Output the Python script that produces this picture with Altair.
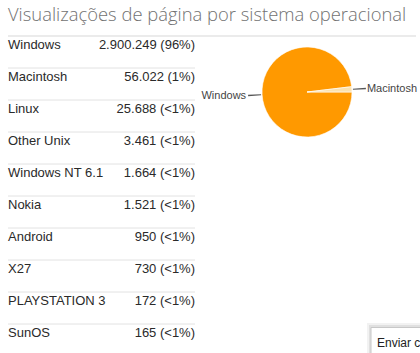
import math
import altair as alt
import pandas as pd

# ---- data ----
os_names = ["Windows", "Macintosh", "Linux", "Other Unix", "Windows NT 6.1",
            "Nokia", "Android", "X27", "PLAYSTATION 3", "SunOS"]
page_views = [2900249, 56022, 25688, 3461, 1664, 1521, 950, 730, 172, 165]
share_labels = ["96%", "1%", "<1%", "<1%", "<1%", "<1%", "<1%", "<1%", "<1%", "<1%"]

pie_names = ["Windows", "Macintosh"]
pie_views = [2900249, 56022]
pie_colors = ["#FF9900", "#FBE2B0"]

title_text = "Visualizações de página por sistema operacional"
feedback_text = "Enviar comentários"

table = pd.DataFrame({"os": os_names, "views": page_views,
                      "share": share_labels, "rank": list(range(len(os_names)))})
pie = pd.DataFrame({"os": pie_names, "views": pie_views,
                    "rank": list(range(len(pie_names)))})

FONT = "Liberation Sans"
y_scale = alt.Scale(type="point", domain=os_names, range=[49, 337], padding=0)
Y = alt.Y("os:N", scale=y_scale, axis=None)

base = alt.Chart(table)

names = base.mark_text(align="left", baseline="alphabetic", font=FONT,
                       fontSize=13, color="#2a2a2a").encode(
    x=alt.value(8), y=Y, text="os:N")

values = base.transform_calculate(
    label="replace(format(datum.views, ','), regexp(',', 'g'), '.') + ' (' + datum.share + ')'"
).mark_text(align="right", baseline="alphabetic", font=FONT,
            fontSize=13, color="#2a2a2a").encode(
    x=alt.value(195), y=Y, text="label:N")

seps = base.transform_filter("datum.rank > 0").mark_rule(
    color="#e2e2e2", strokeWidth=1, yOffset=-13).encode(
    x=alt.value(8), x2=alt.value(195), y=Y)

title_line = base.transform_filter("datum.rank == 0").mark_rule(
    color="#e4e4e4", strokeWidth=1.5, yOffset=-13).encode(
    x=alt.value(8), x2=alt.value(416), y=Y)

title = alt.Chart(pd.DataFrame({"t": [title_text]})).mark_text(
    align="left", baseline="alphabetic", font="Open Sans", fontSize=18.4,
    fontWeight=300, color="#727272").encode(
    x=alt.value(8), y=alt.value(21), text="t:N")

# ---- pie ----
CX, CY = 307, 92
theta_range = [math.pi / 2, math.pi / 2 + 2 * math.pi]
pbase = alt.Chart(pie)
TH = alt.Theta("views:Q", stack=True, scale=alt.Scale(range=theta_range))

arcs = pbase.mark_arc(outerRadius=45, stroke="white", strokeWidth=0.6).encode(
    theta=TH,
    color=alt.Color("os:N", scale=alt.Scale(domain=pie_names, range=pie_colors), legend=None),
    order=alt.Order("rank:Q"),
    x=alt.value(CX), y=alt.value(CY))

lab_left = pbase.mark_text(radius=61, align="right", baseline="middle",
                           font=FONT, fontSize=11, color="#444").encode(
    theta=TH, order=alt.Order("rank:Q"),
    text=alt.condition("datum.os == 'Windows'", "os:N", alt.value("")),
    x=alt.value(CX), y=alt.value(CY))

lab_right = pbase.mark_text(radius=60, align="left", baseline="middle", dy=1,
                            font=FONT, fontSize=11, color="#444").encode(
    theta=TH, order=alt.Order("rank:Q"),
    text=alt.condition("datum.os == 'Macintosh'", "os:N", alt.value("")),
    x=alt.value(CX), y=alt.value(CY))

leaders = pbase.transform_joinaggregate(total="sum(views)").transform_window(
    cum="sum(views)", sort=[alt.SortField("rank")]
).transform_calculate(
    mid=f"{math.pi/2} + 2 * PI * (datum.cum - datum.views / 2) / datum.total"
).transform_calculate(
    t0="datum.mid - 0.013", t1="datum.mid + 0.013"
).mark_arc(innerRadius=46, outerRadius=59, color="#555").encode(
    theta=alt.Theta("t0:Q", scale=None), theta2="t1:Q",
    x=alt.value(CX), y=alt.value(CY))

# ---- feedback button peeking in at bottom-right ----
fb = pd.DataFrame({"t": [feedback_text]})
shadow2 = alt.Chart(fb).mark_rect(fill="#000", opacity=0.05).encode(
    x=alt.value(367), x2=alt.value(440), y=alt.value(323), y2=alt.value(370))
shadow1 = alt.Chart(fb).mark_rect(fill="#000", opacity=0.07).encode(
    x=alt.value(369), x2=alt.value(440), y=alt.value(325), y2=alt.value(370))
box = alt.Chart(fb).mark_rect(fill="white", stroke="#c8c8c8", strokeWidth=1).encode(
    x=alt.value(371), x2=alt.value(440), y=alt.value(327.5), y2=alt.value(370))
fb_text = alt.Chart(fb).mark_text(align="left", baseline="alphabetic", font=FONT,
                                  fontSize=12, color="#222").encode(
    x=alt.value(377), y=alt.value(347), text="t:N")

chart = alt.layer(
    title_line, seps, names, values, title,
    arcs, leaders, lab_left, lab_right,
    shadow2, shadow1, box, fb_text
).resolve_scale(theta="independent").properties(
    width=420, height=353, padding=0, autosize=alt.AutoSizeParams(type="none"),
    background="white"
).configure_view(stroke=None)

chart.save("out.html", embed_options={"renderer": "svg", "actions": False})
